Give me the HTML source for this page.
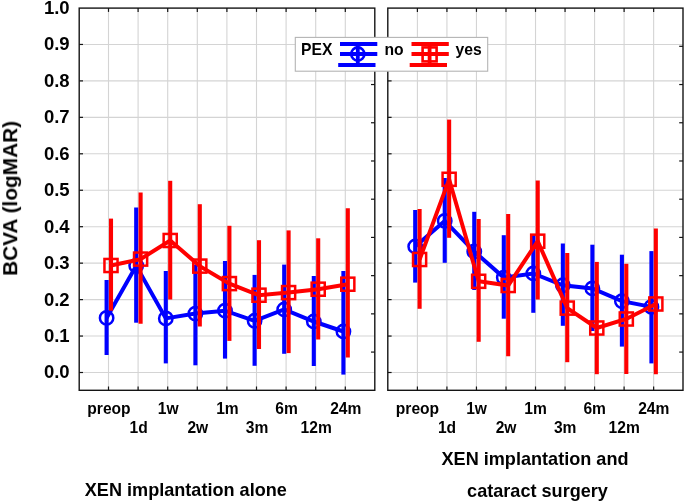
<!DOCTYPE html>
<html><head><meta charset="utf-8"><title>BCVA chart</title>
<style>html,body{margin:0;padding:0;background:#fff;}body{width:685px;height:501px;overflow:hidden;font-family:"Liberation Sans",sans-serif;}</style>
</head><body>
<svg width="685" height="501" viewBox="0 0 685 501" style="display:block;font-family:'Liberation Sans',sans-serif;font-weight:bold">
<rect width="685" height="501" fill="#fff"/>
<line x1="79.2" x2="374.8" y1="372.50" y2="372.50" stroke="#d4d4d4" stroke-width="1.1"/>
<line x1="79.2" x2="374.8" y1="336.05" y2="336.05" stroke="#d4d4d4" stroke-width="1.1"/>
<line x1="79.2" x2="374.8" y1="299.60" y2="299.60" stroke="#d4d4d4" stroke-width="1.1"/>
<line x1="79.2" x2="374.8" y1="263.15" y2="263.15" stroke="#d4d4d4" stroke-width="1.1"/>
<line x1="79.2" x2="374.8" y1="226.70" y2="226.70" stroke="#d4d4d4" stroke-width="1.1"/>
<line x1="79.2" x2="374.8" y1="190.25" y2="190.25" stroke="#d4d4d4" stroke-width="1.1"/>
<line x1="79.2" x2="374.8" y1="153.80" y2="153.80" stroke="#d4d4d4" stroke-width="1.1"/>
<line x1="79.2" x2="374.8" y1="117.35" y2="117.35" stroke="#d4d4d4" stroke-width="1.1"/>
<line x1="79.2" x2="374.8" y1="80.90" y2="80.90" stroke="#d4d4d4" stroke-width="1.1"/>
<line x1="79.2" x2="374.8" y1="44.45" y2="44.45" stroke="#d4d4d4" stroke-width="1.1"/>
<line x1="108.50" x2="108.50" y1="8.1" y2="390.3" stroke="#d4d4d4" stroke-width="1.1"/>
<line x1="138.10" x2="138.10" y1="8.1" y2="390.3" stroke="#d4d4d4" stroke-width="1.1"/>
<line x1="167.70" x2="167.70" y1="8.1" y2="390.3" stroke="#d4d4d4" stroke-width="1.1"/>
<line x1="197.30" x2="197.30" y1="8.1" y2="390.3" stroke="#d4d4d4" stroke-width="1.1"/>
<line x1="226.90" x2="226.90" y1="8.1" y2="390.3" stroke="#d4d4d4" stroke-width="1.1"/>
<line x1="256.50" x2="256.50" y1="8.1" y2="390.3" stroke="#d4d4d4" stroke-width="1.1"/>
<line x1="286.10" x2="286.10" y1="8.1" y2="390.3" stroke="#d4d4d4" stroke-width="1.1"/>
<line x1="315.70" x2="315.70" y1="8.1" y2="390.3" stroke="#d4d4d4" stroke-width="1.1"/>
<line x1="345.30" x2="345.30" y1="8.1" y2="390.3" stroke="#d4d4d4" stroke-width="1.1"/>
<line x1="108.50" x2="108.50" y1="8.1" y2="11.899999999999999" stroke="#141414" stroke-width="1.2"/>
<line x1="108.50" x2="108.50" y1="390.3" y2="386.5" stroke="#141414" stroke-width="1.2"/>
<line x1="138.10" x2="138.10" y1="8.1" y2="11.899999999999999" stroke="#141414" stroke-width="1.2"/>
<line x1="138.10" x2="138.10" y1="390.3" y2="386.5" stroke="#141414" stroke-width="1.2"/>
<line x1="167.70" x2="167.70" y1="8.1" y2="11.899999999999999" stroke="#141414" stroke-width="1.2"/>
<line x1="167.70" x2="167.70" y1="390.3" y2="386.5" stroke="#141414" stroke-width="1.2"/>
<line x1="197.30" x2="197.30" y1="8.1" y2="11.899999999999999" stroke="#141414" stroke-width="1.2"/>
<line x1="197.30" x2="197.30" y1="390.3" y2="386.5" stroke="#141414" stroke-width="1.2"/>
<line x1="226.90" x2="226.90" y1="8.1" y2="11.899999999999999" stroke="#141414" stroke-width="1.2"/>
<line x1="226.90" x2="226.90" y1="390.3" y2="386.5" stroke="#141414" stroke-width="1.2"/>
<line x1="256.50" x2="256.50" y1="8.1" y2="11.899999999999999" stroke="#141414" stroke-width="1.2"/>
<line x1="256.50" x2="256.50" y1="390.3" y2="386.5" stroke="#141414" stroke-width="1.2"/>
<line x1="286.10" x2="286.10" y1="8.1" y2="11.899999999999999" stroke="#141414" stroke-width="1.2"/>
<line x1="286.10" x2="286.10" y1="390.3" y2="386.5" stroke="#141414" stroke-width="1.2"/>
<line x1="315.70" x2="315.70" y1="8.1" y2="11.899999999999999" stroke="#141414" stroke-width="1.2"/>
<line x1="315.70" x2="315.70" y1="390.3" y2="386.5" stroke="#141414" stroke-width="1.2"/>
<line x1="345.30" x2="345.30" y1="8.1" y2="11.899999999999999" stroke="#141414" stroke-width="1.2"/>
<line x1="345.30" x2="345.30" y1="390.3" y2="386.5" stroke="#141414" stroke-width="1.2"/>
<line x1="79.2" x2="83.0" y1="372.50" y2="372.50" stroke="#141414" stroke-width="1.2"/>
<line x1="79.2" x2="83.0" y1="336.05" y2="336.05" stroke="#141414" stroke-width="1.2"/>
<line x1="79.2" x2="83.0" y1="299.60" y2="299.60" stroke="#141414" stroke-width="1.2"/>
<line x1="79.2" x2="83.0" y1="263.15" y2="263.15" stroke="#141414" stroke-width="1.2"/>
<line x1="79.2" x2="83.0" y1="226.70" y2="226.70" stroke="#141414" stroke-width="1.2"/>
<line x1="79.2" x2="83.0" y1="190.25" y2="190.25" stroke="#141414" stroke-width="1.2"/>
<line x1="79.2" x2="83.0" y1="153.80" y2="153.80" stroke="#141414" stroke-width="1.2"/>
<line x1="79.2" x2="83.0" y1="117.35" y2="117.35" stroke="#141414" stroke-width="1.2"/>
<line x1="79.2" x2="83.0" y1="80.90" y2="80.90" stroke="#141414" stroke-width="1.2"/>
<line x1="79.2" x2="83.0" y1="44.45" y2="44.45" stroke="#141414" stroke-width="1.2"/>
<line x1="374.8" x2="371.0" y1="46.32" y2="46.32" stroke="#141414" stroke-width="1.2"/>
<line x1="374.8" x2="371.0" y1="84.54" y2="84.54" stroke="#141414" stroke-width="1.2"/>
<line x1="374.8" x2="371.0" y1="122.76" y2="122.76" stroke="#141414" stroke-width="1.2"/>
<line x1="374.8" x2="371.0" y1="160.98" y2="160.98" stroke="#141414" stroke-width="1.2"/>
<line x1="374.8" x2="371.0" y1="199.20" y2="199.20" stroke="#141414" stroke-width="1.2"/>
<line x1="374.8" x2="371.0" y1="237.42" y2="237.42" stroke="#141414" stroke-width="1.2"/>
<line x1="374.8" x2="371.0" y1="275.64" y2="275.64" stroke="#141414" stroke-width="1.2"/>
<line x1="374.8" x2="371.0" y1="313.86" y2="313.86" stroke="#141414" stroke-width="1.2"/>
<line x1="374.8" x2="371.0" y1="352.08" y2="352.08" stroke="#141414" stroke-width="1.2"/>
<line x1="106.60" x2="106.60" y1="280" y2="355" stroke="#0000ff" stroke-width="4.1"/>
<line x1="136.20" x2="136.20" y1="207.5" y2="322.7" stroke="#0000ff" stroke-width="4.1"/>
<line x1="165.80" x2="165.80" y1="271" y2="363.4" stroke="#0000ff" stroke-width="4.1"/>
<line x1="195.40" x2="195.40" y1="264.6" y2="365.3" stroke="#0000ff" stroke-width="4.1"/>
<line x1="225.00" x2="225.00" y1="261" y2="358.6" stroke="#0000ff" stroke-width="4.1"/>
<line x1="254.60" x2="254.60" y1="274.9" y2="365.8" stroke="#0000ff" stroke-width="4.1"/>
<line x1="284.20" x2="284.20" y1="264.6" y2="353.8" stroke="#0000ff" stroke-width="4.1"/>
<line x1="313.80" x2="313.80" y1="276" y2="366.0" stroke="#0000ff" stroke-width="4.1"/>
<line x1="343.40" x2="343.40" y1="271" y2="374.6" stroke="#0000ff" stroke-width="4.1"/>
<polyline points="106.60,317.9 136.20,265.7 165.80,318.4 195.40,313.6 225.00,310.7 254.60,320.8 284.20,309.5 313.80,321.5 343.40,331.5" fill="none" stroke="#0000ff" stroke-width="4.0" stroke-linejoin="miter"/>
<circle cx="106.60" cy="317.9" r="6.7" fill="none" stroke="#0000ff" stroke-width="2.5"/>
<circle cx="136.20" cy="265.7" r="6.7" fill="none" stroke="#0000ff" stroke-width="2.5"/>
<circle cx="165.80" cy="318.4" r="6.7" fill="none" stroke="#0000ff" stroke-width="2.5"/>
<circle cx="195.40" cy="313.6" r="6.7" fill="none" stroke="#0000ff" stroke-width="2.5"/>
<circle cx="225.00" cy="310.7" r="6.7" fill="none" stroke="#0000ff" stroke-width="2.5"/>
<circle cx="254.60" cy="320.8" r="6.7" fill="none" stroke="#0000ff" stroke-width="2.5"/>
<circle cx="284.20" cy="309.5" r="6.7" fill="none" stroke="#0000ff" stroke-width="2.5"/>
<circle cx="313.80" cy="321.5" r="6.7" fill="none" stroke="#0000ff" stroke-width="2.5"/>
<circle cx="343.40" cy="331.5" r="6.7" fill="none" stroke="#0000ff" stroke-width="2.5"/>
<line x1="111.00" x2="111.00" y1="218.6" y2="310.7" stroke="#ff0000" stroke-width="4.1"/>
<line x1="140.60" x2="140.60" y1="192.4" y2="323.7" stroke="#ff0000" stroke-width="4.1"/>
<line x1="170.20" x2="170.20" y1="180.8" y2="299.5" stroke="#ff0000" stroke-width="4.1"/>
<line x1="199.80" x2="199.80" y1="204.2" y2="326.5" stroke="#ff0000" stroke-width="4.1"/>
<line x1="229.40" x2="229.40" y1="225.8" y2="340.9" stroke="#ff0000" stroke-width="4.1"/>
<line x1="259.00" x2="259.00" y1="240.2" y2="349" stroke="#ff0000" stroke-width="4.1"/>
<line x1="288.60" x2="288.60" y1="230.4" y2="353.1" stroke="#ff0000" stroke-width="4.1"/>
<line x1="318.20" x2="318.20" y1="238.3" y2="339.5" stroke="#ff0000" stroke-width="4.1"/>
<line x1="347.80" x2="347.80" y1="208.3" y2="357.4" stroke="#ff0000" stroke-width="4.1"/>
<polyline points="111.00,265.5 140.60,259.1 170.20,240.5 199.80,266.1 229.40,283.6 259.00,295.2 288.60,292.6 318.20,289.2 347.80,284.2" fill="none" stroke="#ff0000" stroke-width="4.0" stroke-linejoin="miter"/>
<rect x="104.45" y="258.95" width="13.1" height="13.1" fill="none" stroke="#ff0000" stroke-width="2.5"/>
<rect x="134.05" y="252.55" width="13.1" height="13.1" fill="none" stroke="#ff0000" stroke-width="2.5"/>
<rect x="163.65" y="233.95" width="13.1" height="13.1" fill="none" stroke="#ff0000" stroke-width="2.5"/>
<rect x="193.25" y="259.55" width="13.1" height="13.1" fill="none" stroke="#ff0000" stroke-width="2.5"/>
<rect x="222.85" y="277.05" width="13.1" height="13.1" fill="none" stroke="#ff0000" stroke-width="2.5"/>
<rect x="252.45" y="288.65" width="13.1" height="13.1" fill="none" stroke="#ff0000" stroke-width="2.5"/>
<rect x="282.05" y="286.05" width="13.1" height="13.1" fill="none" stroke="#ff0000" stroke-width="2.5"/>
<rect x="311.65" y="282.65" width="13.1" height="13.1" fill="none" stroke="#ff0000" stroke-width="2.5"/>
<rect x="341.25" y="277.65" width="13.1" height="13.1" fill="none" stroke="#ff0000" stroke-width="2.5"/>
<rect x="79.2" y="8.1" width="295.6" height="382.2" fill="none" stroke="#141414" stroke-width="1.4"/>
<line x1="387.8" x2="683.0" y1="372.50" y2="372.50" stroke="#d4d4d4" stroke-width="1.1"/>
<line x1="387.8" x2="683.0" y1="336.05" y2="336.05" stroke="#d4d4d4" stroke-width="1.1"/>
<line x1="387.8" x2="683.0" y1="299.60" y2="299.60" stroke="#d4d4d4" stroke-width="1.1"/>
<line x1="387.8" x2="683.0" y1="263.15" y2="263.15" stroke="#d4d4d4" stroke-width="1.1"/>
<line x1="387.8" x2="683.0" y1="226.70" y2="226.70" stroke="#d4d4d4" stroke-width="1.1"/>
<line x1="387.8" x2="683.0" y1="190.25" y2="190.25" stroke="#d4d4d4" stroke-width="1.1"/>
<line x1="387.8" x2="683.0" y1="153.80" y2="153.80" stroke="#d4d4d4" stroke-width="1.1"/>
<line x1="387.8" x2="683.0" y1="117.35" y2="117.35" stroke="#d4d4d4" stroke-width="1.1"/>
<line x1="387.8" x2="683.0" y1="80.90" y2="80.90" stroke="#d4d4d4" stroke-width="1.1"/>
<line x1="387.8" x2="683.0" y1="44.45" y2="44.45" stroke="#d4d4d4" stroke-width="1.1"/>
<line x1="417.40" x2="417.40" y1="8.1" y2="390.3" stroke="#d4d4d4" stroke-width="1.1"/>
<line x1="446.93" x2="446.93" y1="8.1" y2="390.3" stroke="#d4d4d4" stroke-width="1.1"/>
<line x1="476.46" x2="476.46" y1="8.1" y2="390.3" stroke="#d4d4d4" stroke-width="1.1"/>
<line x1="505.99" x2="505.99" y1="8.1" y2="390.3" stroke="#d4d4d4" stroke-width="1.1"/>
<line x1="535.52" x2="535.52" y1="8.1" y2="390.3" stroke="#d4d4d4" stroke-width="1.1"/>
<line x1="565.05" x2="565.05" y1="8.1" y2="390.3" stroke="#d4d4d4" stroke-width="1.1"/>
<line x1="594.58" x2="594.58" y1="8.1" y2="390.3" stroke="#d4d4d4" stroke-width="1.1"/>
<line x1="624.11" x2="624.11" y1="8.1" y2="390.3" stroke="#d4d4d4" stroke-width="1.1"/>
<line x1="653.64" x2="653.64" y1="8.1" y2="390.3" stroke="#d4d4d4" stroke-width="1.1"/>
<line x1="417.40" x2="417.40" y1="8.1" y2="11.899999999999999" stroke="#141414" stroke-width="1.2"/>
<line x1="417.40" x2="417.40" y1="390.3" y2="386.5" stroke="#141414" stroke-width="1.2"/>
<line x1="446.93" x2="446.93" y1="8.1" y2="11.899999999999999" stroke="#141414" stroke-width="1.2"/>
<line x1="446.93" x2="446.93" y1="390.3" y2="386.5" stroke="#141414" stroke-width="1.2"/>
<line x1="476.46" x2="476.46" y1="8.1" y2="11.899999999999999" stroke="#141414" stroke-width="1.2"/>
<line x1="476.46" x2="476.46" y1="390.3" y2="386.5" stroke="#141414" stroke-width="1.2"/>
<line x1="505.99" x2="505.99" y1="8.1" y2="11.899999999999999" stroke="#141414" stroke-width="1.2"/>
<line x1="505.99" x2="505.99" y1="390.3" y2="386.5" stroke="#141414" stroke-width="1.2"/>
<line x1="535.52" x2="535.52" y1="8.1" y2="11.899999999999999" stroke="#141414" stroke-width="1.2"/>
<line x1="535.52" x2="535.52" y1="390.3" y2="386.5" stroke="#141414" stroke-width="1.2"/>
<line x1="565.05" x2="565.05" y1="8.1" y2="11.899999999999999" stroke="#141414" stroke-width="1.2"/>
<line x1="565.05" x2="565.05" y1="390.3" y2="386.5" stroke="#141414" stroke-width="1.2"/>
<line x1="594.58" x2="594.58" y1="8.1" y2="11.899999999999999" stroke="#141414" stroke-width="1.2"/>
<line x1="594.58" x2="594.58" y1="390.3" y2="386.5" stroke="#141414" stroke-width="1.2"/>
<line x1="624.11" x2="624.11" y1="8.1" y2="11.899999999999999" stroke="#141414" stroke-width="1.2"/>
<line x1="624.11" x2="624.11" y1="390.3" y2="386.5" stroke="#141414" stroke-width="1.2"/>
<line x1="653.64" x2="653.64" y1="8.1" y2="11.899999999999999" stroke="#141414" stroke-width="1.2"/>
<line x1="653.64" x2="653.64" y1="390.3" y2="386.5" stroke="#141414" stroke-width="1.2"/>
<line x1="387.8" x2="391.6" y1="372.50" y2="372.50" stroke="#141414" stroke-width="1.2"/>
<line x1="387.8" x2="391.6" y1="336.05" y2="336.05" stroke="#141414" stroke-width="1.2"/>
<line x1="387.8" x2="391.6" y1="299.60" y2="299.60" stroke="#141414" stroke-width="1.2"/>
<line x1="387.8" x2="391.6" y1="263.15" y2="263.15" stroke="#141414" stroke-width="1.2"/>
<line x1="387.8" x2="391.6" y1="226.70" y2="226.70" stroke="#141414" stroke-width="1.2"/>
<line x1="387.8" x2="391.6" y1="190.25" y2="190.25" stroke="#141414" stroke-width="1.2"/>
<line x1="387.8" x2="391.6" y1="153.80" y2="153.80" stroke="#141414" stroke-width="1.2"/>
<line x1="387.8" x2="391.6" y1="117.35" y2="117.35" stroke="#141414" stroke-width="1.2"/>
<line x1="387.8" x2="391.6" y1="80.90" y2="80.90" stroke="#141414" stroke-width="1.2"/>
<line x1="387.8" x2="391.6" y1="44.45" y2="44.45" stroke="#141414" stroke-width="1.2"/>
<line x1="683.0" x2="679.2" y1="46.32" y2="46.32" stroke="#141414" stroke-width="1.2"/>
<line x1="683.0" x2="679.2" y1="84.54" y2="84.54" stroke="#141414" stroke-width="1.2"/>
<line x1="683.0" x2="679.2" y1="122.76" y2="122.76" stroke="#141414" stroke-width="1.2"/>
<line x1="683.0" x2="679.2" y1="160.98" y2="160.98" stroke="#141414" stroke-width="1.2"/>
<line x1="683.0" x2="679.2" y1="199.20" y2="199.20" stroke="#141414" stroke-width="1.2"/>
<line x1="683.0" x2="679.2" y1="237.42" y2="237.42" stroke="#141414" stroke-width="1.2"/>
<line x1="683.0" x2="679.2" y1="275.64" y2="275.64" stroke="#141414" stroke-width="1.2"/>
<line x1="683.0" x2="679.2" y1="313.86" y2="313.86" stroke="#141414" stroke-width="1.2"/>
<line x1="683.0" x2="679.2" y1="352.08" y2="352.08" stroke="#141414" stroke-width="1.2"/>
<line x1="415.20" x2="415.20" y1="210" y2="282.6" stroke="#0000ff" stroke-width="4.1"/>
<line x1="444.73" x2="444.73" y1="178" y2="262.8" stroke="#0000ff" stroke-width="4.1"/>
<line x1="474.26" x2="474.26" y1="211.8" y2="290" stroke="#0000ff" stroke-width="4.1"/>
<line x1="503.79" x2="503.79" y1="235.2" y2="318.7" stroke="#0000ff" stroke-width="4.1"/>
<line x1="533.32" x2="533.32" y1="234.3" y2="312.8" stroke="#0000ff" stroke-width="4.1"/>
<line x1="562.85" x2="562.85" y1="243.5" y2="325.8" stroke="#0000ff" stroke-width="4.1"/>
<line x1="592.38" x2="592.38" y1="244.7" y2="331" stroke="#0000ff" stroke-width="4.1"/>
<line x1="621.91" x2="621.91" y1="254.7" y2="346.6" stroke="#0000ff" stroke-width="4.1"/>
<line x1="651.44" x2="651.44" y1="251.1" y2="363.4" stroke="#0000ff" stroke-width="4.1"/>
<polyline points="415.20,246.5 444.73,220.9 474.26,251.5 503.79,277.6 533.32,273.5 562.85,285.3 592.38,288.4 621.91,301.2 651.44,306.9" fill="none" stroke="#0000ff" stroke-width="4.0" stroke-linejoin="miter"/>
<circle cx="415.20" cy="246.5" r="6.7" fill="none" stroke="#0000ff" stroke-width="2.5"/>
<circle cx="444.73" cy="220.9" r="6.7" fill="none" stroke="#0000ff" stroke-width="2.5"/>
<circle cx="474.26" cy="251.5" r="6.7" fill="none" stroke="#0000ff" stroke-width="2.5"/>
<circle cx="503.79" cy="277.6" r="6.7" fill="none" stroke="#0000ff" stroke-width="2.5"/>
<circle cx="533.32" cy="273.5" r="6.7" fill="none" stroke="#0000ff" stroke-width="2.5"/>
<circle cx="562.85" cy="285.3" r="6.7" fill="none" stroke="#0000ff" stroke-width="2.5"/>
<circle cx="592.38" cy="288.4" r="6.7" fill="none" stroke="#0000ff" stroke-width="2.5"/>
<circle cx="621.91" cy="301.2" r="6.7" fill="none" stroke="#0000ff" stroke-width="2.5"/>
<circle cx="651.44" cy="306.9" r="6.7" fill="none" stroke="#0000ff" stroke-width="2.5"/>
<line x1="419.60" x2="419.60" y1="209" y2="308.8" stroke="#ff0000" stroke-width="4.1"/>
<line x1="449.13" x2="449.13" y1="119.6" y2="237.8" stroke="#ff0000" stroke-width="4.1"/>
<line x1="478.66" x2="478.66" y1="219" y2="341.8" stroke="#ff0000" stroke-width="4.1"/>
<line x1="508.19" x2="508.19" y1="213.9" y2="356.2" stroke="#ff0000" stroke-width="4.1"/>
<line x1="537.72" x2="537.72" y1="180.5" y2="299.5" stroke="#ff0000" stroke-width="4.1"/>
<line x1="567.25" x2="567.25" y1="253" y2="362.2" stroke="#ff0000" stroke-width="4.1"/>
<line x1="596.78" x2="596.78" y1="261.9" y2="374.2" stroke="#ff0000" stroke-width="4.1"/>
<line x1="626.31" x2="626.31" y1="263.8" y2="374.0" stroke="#ff0000" stroke-width="4.1"/>
<line x1="655.84" x2="655.84" y1="228.6" y2="374.2" stroke="#ff0000" stroke-width="4.1"/>
<polyline points="419.60,259.5 449.13,179.3 478.66,281.3 508.19,285.5 537.72,241.2 567.25,308.1 596.78,328.0 626.31,319.0 655.84,304.0" fill="none" stroke="#ff0000" stroke-width="4.0" stroke-linejoin="miter"/>
<rect x="413.05" y="252.95" width="13.1" height="13.1" fill="none" stroke="#ff0000" stroke-width="2.5"/>
<rect x="442.58" y="172.75" width="13.1" height="13.1" fill="none" stroke="#ff0000" stroke-width="2.5"/>
<rect x="472.11" y="274.75" width="13.1" height="13.1" fill="none" stroke="#ff0000" stroke-width="2.5"/>
<rect x="501.64" y="278.95" width="13.1" height="13.1" fill="none" stroke="#ff0000" stroke-width="2.5"/>
<rect x="531.17" y="234.65" width="13.1" height="13.1" fill="none" stroke="#ff0000" stroke-width="2.5"/>
<rect x="560.70" y="301.55" width="13.1" height="13.1" fill="none" stroke="#ff0000" stroke-width="2.5"/>
<rect x="590.23" y="321.45" width="13.1" height="13.1" fill="none" stroke="#ff0000" stroke-width="2.5"/>
<rect x="619.76" y="312.45" width="13.1" height="13.1" fill="none" stroke="#ff0000" stroke-width="2.5"/>
<rect x="649.29" y="297.45" width="13.1" height="13.1" fill="none" stroke="#ff0000" stroke-width="2.5"/>
<rect x="387.8" y="8.1" width="295.2" height="382.2" fill="none" stroke="#141414" stroke-width="1.4"/>
<rect x="295.3" y="37.4" width="192.4" height="33.8" fill="#fff" stroke="#b4b4b4" stroke-width="1.1"/>
<line x1="340" x2="377.3" y1="43.9" y2="43.9" stroke="#0000ff" stroke-width="4"/>
<line x1="340" x2="377.3" y1="54.1" y2="54.1" stroke="#0000ff" stroke-width="4"/>
<line x1="338.2" x2="375.5" y1="64.9" y2="64.9" stroke="#0000ff" stroke-width="4"/>
<line x1="357.8" x2="357.8" y1="43.9" y2="64.9" stroke="#0000ff" stroke-width="3.8"/>
<circle cx="357.8" cy="54.0" r="6.6" fill="none" stroke="#0000ff" stroke-width="2.6"/>
<line x1="411.5" x2="448.8" y1="43.9" y2="43.9" stroke="#ff0000" stroke-width="4"/>
<line x1="411.5" x2="448.8" y1="54.1" y2="54.1" stroke="#ff0000" stroke-width="4"/>
<line x1="409.7" x2="447.0" y1="64.9" y2="64.9" stroke="#ff0000" stroke-width="4"/>
<line x1="429.6" x2="429.6" y1="43.9" y2="64.9" stroke="#ff0000" stroke-width="3.8"/>
<rect x="422.6" y="47.4" width="14" height="14" fill="none" stroke="#ff0000" stroke-width="2.6"/>
<g style="opacity:0.999">
<text x="301" y="54.9" font-size="15.7" fill="#000">PEX</text>
<text x="384.5" y="54.9" font-size="15.7" fill="#000">no</text>
<text x="455.5" y="54.9" font-size="15.7" fill="#000">yes</text>
<text x="69.6" y="378.40" font-size="18.5" text-anchor="end" fill="#000">0.0</text>
<text x="69.6" y="341.95" font-size="18.5" text-anchor="end" fill="#000">0.1</text>
<text x="69.6" y="305.50" font-size="18.5" text-anchor="end" fill="#000">0.2</text>
<text x="69.6" y="269.05" font-size="18.5" text-anchor="end" fill="#000">0.3</text>
<text x="69.6" y="232.60" font-size="18.5" text-anchor="end" fill="#000">0.4</text>
<text x="69.6" y="196.15" font-size="18.5" text-anchor="end" fill="#000">0.5</text>
<text x="69.6" y="159.70" font-size="18.5" text-anchor="end" fill="#000">0.6</text>
<text x="69.6" y="123.25" font-size="18.5" text-anchor="end" fill="#000">0.7</text>
<text x="69.6" y="86.80" font-size="18.5" text-anchor="end" fill="#000">0.8</text>
<text x="69.6" y="50.35" font-size="18.5" text-anchor="end" fill="#000">0.9</text>
<text x="69.6" y="13.90" font-size="18.5" text-anchor="end" fill="#000">1.0</text>
<text transform="translate(17.2,198.4) rotate(-90) scale(1.042,1)" font-size="20" text-anchor="middle" fill="#000">BCVA (logMAR)</text>
<text x="109.00" y="414.2" font-size="15.6" text-anchor="middle" fill="#000">preop</text>
<text x="138.60" y="432.6" font-size="15.6" text-anchor="middle" fill="#000">1d</text>
<text x="168.20" y="414.2" font-size="15.6" text-anchor="middle" fill="#000">1w</text>
<text x="197.80" y="432.6" font-size="15.6" text-anchor="middle" fill="#000">2w</text>
<text x="227.40" y="414.2" font-size="15.6" text-anchor="middle" fill="#000">1m</text>
<text x="257.00" y="432.6" font-size="15.6" text-anchor="middle" fill="#000">3m</text>
<text x="286.60" y="414.2" font-size="15.6" text-anchor="middle" fill="#000">6m</text>
<text x="316.20" y="432.6" font-size="15.6" text-anchor="middle" fill="#000">12m</text>
<text x="345.80" y="414.2" font-size="15.6" text-anchor="middle" fill="#000">24m</text>
<text x="417.50" y="414.2" font-size="15.6" text-anchor="middle" fill="#000">preop</text>
<text x="447.03" y="432.6" font-size="15.6" text-anchor="middle" fill="#000">1d</text>
<text x="476.56" y="414.2" font-size="15.6" text-anchor="middle" fill="#000">1w</text>
<text x="506.09" y="432.6" font-size="15.6" text-anchor="middle" fill="#000">2w</text>
<text x="535.62" y="414.2" font-size="15.6" text-anchor="middle" fill="#000">1m</text>
<text x="565.15" y="432.6" font-size="15.6" text-anchor="middle" fill="#000">3m</text>
<text x="594.68" y="414.2" font-size="15.6" text-anchor="middle" fill="#000">6m</text>
<text x="624.21" y="432.6" font-size="15.6" text-anchor="middle" fill="#000">12m</text>
<text x="653.74" y="414.2" font-size="15.6" text-anchor="middle" fill="#000">24m</text>
<text x="84.8" y="495.9" font-size="18.1" fill="#000">XEN implantation alone</text>
<text x="535" y="464.6" font-size="18.1" text-anchor="middle" fill="#000">XEN implantation and</text>
<text x="537.5" y="496.7" font-size="18.1" text-anchor="middle" fill="#000">cataract surgery</text>
</g>
</svg>
</body></html>
